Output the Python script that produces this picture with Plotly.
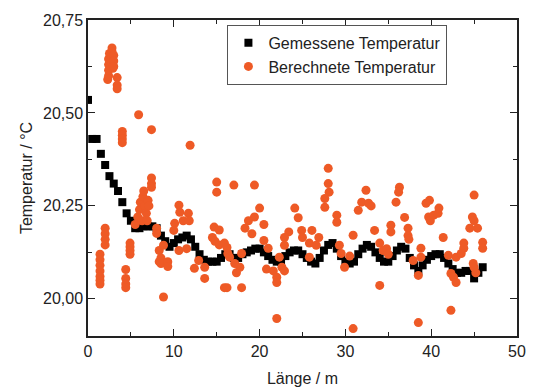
import plotly.graph_objects as go

# Gemessene Temperatur (measured)
meas_x = [0.0, 0.5, 1.0, 1.5, 2.0, 2.5, 3.0, 3.5, 4.0, 4.5, 5.0, 5.5, 6.0, 6.5, 7.0, 7.5,
          8.0, 8.5, 9.0, 9.5, 10.0, 10.5, 11.0, 11.5, 12.0, 12.5, 13.0, 13.5, 14.0, 14.5,
          15.0, 15.5, 16.0, 16.5, 17.0, 17.5, 18.0, 18.5, 19.0, 19.5, 20.0, 20.5, 21.0,
          21.5, 22.0, 22.5, 23.0, 23.5, 24.0, 24.5, 25.0, 25.5, 26.0, 26.5, 27.0, 27.5,
          28.0, 28.5, 29.0, 29.5, 30.0, 30.5, 31.0, 31.5, 32.0, 32.5, 33.0, 33.5, 34.0,
          34.5, 35.0, 35.5, 36.0, 36.5, 37.0, 37.5, 38.0, 38.5, 39.0, 39.5, 40.0, 40.5,
          41.0, 41.5, 42.0, 42.5, 43.0, 43.5, 44.0, 44.5, 45.0, 45.5, 46.0]
meas_y = [20.535, 20.43, 20.43, 20.39, 20.36, 20.33, 20.31, 20.29, 20.26, 20.23, 20.21,
          20.19, 20.19, 20.195, 20.195, 20.195, 20.19, 20.17, 20.155, 20.14, 20.15, 20.16,
          20.165, 20.17, 20.16, 20.14, 20.12, 20.105, 20.10, 20.10, 20.10, 20.11, 20.12,
          20.12, 20.11, 20.11, 20.12, 20.125, 20.13, 20.135, 20.135, 20.125, 20.115, 20.105,
          20.10, 20.10, 20.115, 20.125, 20.13, 20.13, 20.12, 20.11, 20.10, 20.095, 20.11,
          20.13, 20.145, 20.15, 20.135, 20.115, 20.10, 20.095, 20.10, 20.12, 20.135, 20.145,
          20.14, 20.125, 20.11, 20.10, 20.10, 20.115, 20.13, 20.14, 20.135, 20.11, 20.09,
          20.075, 20.09, 20.105, 20.115, 20.12, 20.12, 20.11, 20.095, 20.08, 20.07, 20.07,
          20.075, 20.075, 20.055, 20.07, 20.085]

# Berechnete Temperatur (calculated)
calc_x = [1.4, 1.4, 1.4, 1.4, 1.4, 1.4, 1.4, 2.0, 2.0, 2.0, 2.0,
          2.3, 2.4, 2.4, 2.4, 2.4, 2.5, 2.8, 2.8, 2.8, 2.8, 2.9, 3.0, 3.0, 3.0, 3.4, 3.4, 3.4,
          4.0, 4.0, 4.0, 4.0, 4.4, 4.4, 4.4, 4.4, 4.9, 4.9, 4.9, 4.9, 5.5, 5.9,
          5.8, 6.0, 6.1, 6.3, 6.4, 6.5, 6.6, 6.8, 7.0, 6.9, 7.1,
          7.4, 7.4, 7.4, 7.4, 8.0, 8.0, 8.3, 8.3, 8.5, 8.5, 9.3, 9.3, 8.8, 8.8,
          10.1, 10.0, 10.6, 10.7, 11.1, 11.7, 11.8, 10.6, 11.5, 11.9,
          12.4, 12.9, 13.6, 13.6, 14.7, 15.3, 14.5, 14.8, 15.3, 15.9, 16.3, 15.0, 15.0, 15.9,
          16.2, 16.5, 17.1, 17.7, 17.9, 17.3, 16.2, 17.9, 17.0, 19.4,
          20.0, 19.4, 18.7, 18.3, 19.1, 20.5, 20.5, 21.0, 20.8, 21.6, 22.0, 22.0, 22.3, 22.6,
          22.9, 22.0, 24.1, 24.5, 23.4, 22.9, 22.9,
          24.9, 25.0, 26.1, 25.8, 26.6, 26.9, 25.8, 28.0, 28.0, 28.1, 27.6, 27.6, 29.0, 29.0,
          32.4, 31.9, 31.5, 29.3, 29.5, 30.9, 30.5, 29.9, 30.9, 32.7, 33.0,
          36.3, 36.2, 35.9, 39.8, 39.4, 36.9, 39.7, 39.9, 40.3, 40.8, 33.4, 35.3, 35.3,
          37.3, 37.3, 37.4, 34.0, 34.4, 34.8, 35.0, 37.9, 38.8, 38.8, 38.5, 34.0, 38.5,
          45.0, 44.8, 45.0, 45.4, 44.5, 40.9, 41.4, 43.8, 43.8, 46.0, 46.0, 42.0, 42.9, 43.5,
          42.3, 42.6, 42.9, 44.9, 45.0, 45.2, 42.3]
calc_y = [20.12, 20.105, 20.09, 20.075, 20.06, 20.05, 20.04, 20.19, 20.175, 20.16, 20.145,
          20.59, 20.60, 20.615, 20.63, 20.645, 20.66, 20.675, 20.665, 20.65, 20.635, 20.62,
          20.655, 20.64, 20.625, 20.595, 20.575, 20.565,
          20.45, 20.44, 20.43, 20.42, 20.079, 20.055, 20.04, 20.03, 20.15, 20.14, 20.13,
          20.12, 20.20, 20.495,
          20.22, 20.24, 20.26, 20.21, 20.275, 20.29, 20.25, 20.23, 20.265, 20.21, 20.25,
          20.455, 20.325, 20.31, 20.30, 20.19, 20.176, 20.13, 20.10, 20.11, 20.095, 20.10,
          20.087, 20.144, 20.005,
          20.203, 20.184, 20.252, 20.233, 20.21, 20.23, 20.21, 20.13, 20.135, 20.413,
          20.082, 20.103, 20.085, 20.055, 20.193, 20.185, 20.165, 20.155, 20.145, 20.15,
          20.122, 20.314, 20.287, 20.03,
          20.138, 20.112, 20.095, 20.085, 20.122, 20.07, 20.03, 20.03, 20.306, 20.306,
          20.244, 20.22, 20.21, 20.19, 20.175, 20.20, 20.157, 20.136, 20.08, 20.075, 20.058,
          20.044, 20.112, 20.085, 20.075, 19.947, 20.244, 20.218, 20.18, 20.165, 20.144,
          20.184, 20.165, 20.184, 20.15, 20.144, 20.165, 20.112, 20.351, 20.31, 20.287,
          20.27, 20.246, 20.225, 20.206,
          20.292, 20.26, 20.238, 20.144, 20.122, 20.171, 20.115, 20.085, 19.92, 20.257, 20.25,
          20.30, 20.287, 20.26, 20.265, 20.257, 20.219, 20.22, 20.21, 20.225, 20.23, 20.184,
          20.198, 20.18, 20.19, 20.17, 20.16, 20.15, 20.13, 20.135, 20.12, 20.103, 20.136,
          20.112, 20.063, 20.036, 19.936,
          20.279, 20.22, 20.21, 20.19, 20.19, 20.244, 20.165, 20.15, 20.136, 20.152, 20.136,
          20.117, 20.112, 20.122, 20.068, 20.058, 20.044, 20.095, 20.085, 20.07, 19.969]

FONT = "Liberation Sans, Arial, Helvetica, sans-serif"
RED = "#EE5A26"

fig = go.Figure()
fig.add_trace(go.Scatter(
    x=meas_x, y=meas_y, mode="markers", name="Gemessene Temperatur",
    marker=dict(symbol="square", size=8, color="black", line=dict(width=0)),
))
fig.add_trace(go.Scatter(
    x=calc_x, y=calc_y, mode="markers", name="Berechnete Temperatur",
    marker=dict(symbol="circle", size=9, color=RED, line=dict(width=0)),
))

axis_common = dict(
    showline=True, linecolor="#222", linewidth=1.5, mirror="ticks",
    ticks="inside", ticklen=7, tickwidth=1.3, tickcolor="#222",
    showgrid=False, zeroline=False, automargin=False,
    tickfont=dict(family=FONT, size=16, color="#222"),
)

fig.update_layout(
    width=534, height=387,
    margin=dict(l=88, r=17, t=20, b=51),
    paper_bgcolor="white", plot_bgcolor="white",
    separators=",.",
    showlegend=True,
    legend=dict(
        x=0.325, y=0.985, xanchor="left", yanchor="top",
        bgcolor="white", bordercolor="#555", borderwidth=1,
        font=dict(family=FONT, size=16, color="#222"),
        itemwidth=30, tracegroupgap=0,
    ),
    xaxis=dict(
        range=[0, 50], dtick=10, tick0=0,
        minor=dict(ticks="inside", dtick=5, ticklen=4, tickcolor="#222"),
        title=dict(text="Länge / m", font=dict(family=FONT, size=16, color="#222"), standoff=14),
        **axis_common,
    ),
    yaxis=dict(
        range=[19.9, 20.75], dtick=0.25, tick0=20.0, tickformat=".2f",
        minor=dict(ticks="inside", dtick=0.125, ticklen=4, tickcolor="#222"),
        title=dict(text="Temperatur / °C", font=dict(family=FONT, size=16, color="#222"), standoff=6),
        **axis_common,
    ),
)

fig.write_html(
    "out.html",
    config={"displayModeBar": False},
    post_script="document.body.style.margin='0';document.body.style.overflow='hidden';",
)
